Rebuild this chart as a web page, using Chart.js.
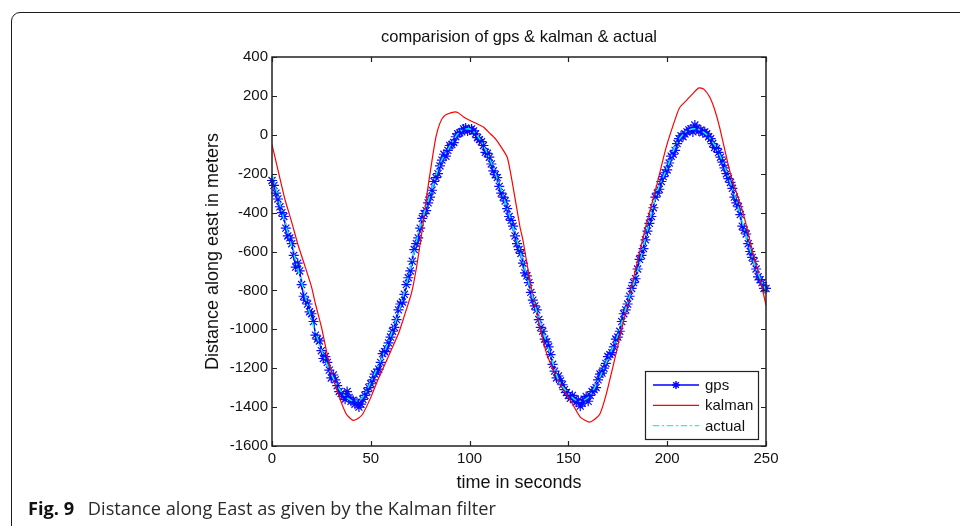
<!DOCTYPE html>
<html>
<head>
<meta charset="utf-8">
<script src="https://cdn.jsdelivr.net/npm/chart.js@4.4.1/dist/chart.umd.min.js"></script>
<style>
    html, body { margin: 0; padding: 0; background: #fff; }
    #wrap { position: relative; width: 960px; height: 526px; overflow: hidden; background: #fff; }
    #frame {
        position: absolute; left: 11px; top: 12px; width: 1000px; height: 600px;
        border: 1.5px solid #1c1c1c; border-top-left-radius: 9px; box-sizing: border-box;
    }
    #chart { position: absolute; left: 0; top: 0; }
    #caption {
        position: absolute; left: 28px; top: 499px; white-space: nowrap;
        font-family: "Open Sans", sans-serif; font-size: 18.2px; line-height: 18px; color: #2a2a2a;
    }
    #caption b { font-weight: 700; color: #111; margin-right: 9px; }
</style>
</head>
<body>
<div id="wrap">
    <div id="frame"></div>
    <canvas id="chart" width="960" height="526"></canvas>
    <div id="caption"><b>Fig. 9</b> Distance along East as given by the Kalman filter</div>
</div>
<script>
// gps fixes, one per second
const gpsTime = [
    0, 1, 2, 3, 4, 5, 6, 7, 8, 9,
    10, 11, 12, 13, 14, 15, 16, 17, 18, 19,
    20, 21, 22, 23, 24, 25, 26, 27, 28, 29,
    30, 31, 32, 33, 34, 35, 36, 37, 38, 39,
    40, 41, 42, 43, 44, 45, 46, 47, 48, 49,
    50, 51, 52, 53, 54, 55, 56, 57, 58, 59,
    60, 61, 62, 63, 64, 65, 66, 67, 68, 69,
    70, 71, 72, 73, 74, 75, 76, 77, 78, 79,
    80, 81, 82, 83, 84, 85, 86, 87, 88, 89,
    90, 91, 92, 93, 94, 95, 96, 97, 98, 99,
    100, 101, 102, 103, 104, 105, 106, 107, 108, 109,
    110, 111, 112, 113, 114, 115, 116, 117, 118, 119,
    120, 121, 122, 123, 124, 125, 126, 127, 128, 129,
    130, 131, 132, 133, 134, 135, 136, 137, 138, 139,
    140, 141, 142, 143, 144, 145, 146, 147, 148, 149,
    150, 151, 152, 153, 154, 155, 156, 157, 158, 159,
    160, 161, 162, 163, 164, 165, 166, 167, 168, 169,
    170, 171, 172, 173, 174, 175, 176, 177, 178, 179,
    180, 181, 182, 183, 184, 185, 186, 187, 188, 189,
    190, 191, 192, 193, 194, 195, 196, 197, 198, 199,
    200, 201, 202, 203, 204, 205, 206, 207, 208, 209,
    210, 211, 212, 213, 214, 215, 216, 217, 218, 219,
    220, 221, 222, 223, 224, 225, 226, 227, 228, 229,
    230, 231, 232, 233, 234, 235, 236, 237, 238, 239,
    240, 241, 242, 243, 244, 245, 246, 247, 248, 249,
    250
];
const gpsDist = [
    -235, -260, -300, -330, -370, -400, -420, -480, -520, -530,
    -560, -620, -680, -660, -700, -770, -830, -850, -870, -910,
    -920, -960, -1030, -1050, -1060, -1110, -1150, -1140, -1170, -1210,
    -1250, -1235, -1260, -1290, -1320, -1330, -1345, -1360, -1320, -1350,
    -1370, -1365, -1385, -1375, -1400, -1385, -1360, -1340, -1320, -1300,
    -1280, -1260, -1230, -1220, -1205, -1170, -1125, -1115, -1100, -1070,
    -1040, -1010, -990, -950, -900, -870, -860, -820, -770, -735,
    -700, -650, -590, -560, -530, -480, -430, -405, -390, -350,
    -320, -285, -240, -220, -200, -160, -130, -100, -110, -80,
    -55, -50, -40, -10, 5, 10, 15, 30, 35, 20,
    25, 30, 20, 5, -15, -25, -35, -55, -90, -95,
    -115, -150, -185, -205, -220, -265, -300, -320, -340, -380,
    -420, -440, -470, -520, -560, -590, -610, -660, -710, -725,
    -760, -810, -850, -880, -900, -950, -990, -1010, -1050, -1065,
    -1090, -1130, -1180, -1215, -1250, -1240, -1265, -1285, -1310, -1325,
    -1340, -1355, -1340, -1360, -1375, -1365, -1395, -1380, -1360, -1345,
    -1370, -1340, -1320, -1310, -1300, -1260, -1230, -1225, -1200, -1175,
    -1140, -1130, -1120, -1090, -1050, -1040, -1010, -960, -920, -900,
    -870, -830, -790, -760, -740, -690, -640, -620, -585, -540,
    -495, -455, -420, -375, -320, -300, -280, -240, -215, -195,
    -180, -145, -110, -100, -80, -45, -20, -5, -10, 5,
    15, 25, 30, 15, 50, 35, 20, 25, 10, 15,
    5, -10, -20, -45, -65, -70, -90, -115, -140, -170,
    -200, -225, -245, -275, -320, -350, -370, -410, -470, -490,
    -510, -560, -600, -630, -650, -690, -730, -745, -760, -790,
    -790
];

// kalman estimate
const kalmanTime = [
    0, 3, 6.5, 10, 13, 16.5, 20, 22, 25, 29,
    33.5, 37.5, 41, 44, 46, 50, 53.5, 58, 64, 67,
    70.5, 73, 75.5, 77, 78.5, 81, 83, 85, 87.5, 92,
    94, 97, 100, 103.5, 107, 110, 113, 116, 119, 120.5,
    122, 125.5, 127, 130.5, 134, 139, 144, 147, 151, 156,
    160.5, 163, 166, 169, 172.5, 176, 179.5, 184.5, 189.5, 194.5,
    199.5, 205, 206.5, 210, 213, 216, 218.5, 221.5, 224, 226.5,
    232, 238.5, 243.5, 247, 250
];
const kalmanDist = [
    -50, -180, -330, -450, -560, -670, -782, -870, -988, -1177,
    -1331, -1434, -1468, -1455, -1434, -1350, -1262, -1160, -1022, -930,
    -817, -690, -525, -420, -300, -130, -10, 60, 100, 117,
    115, 92, 75, 58, 40, 10, -20, -63, -114, -183,
    -268, -474, -542, -748, -919, -1125, -1245, -1300, -1365, -1451,
    -1477, -1465, -1434, -1340, -1194, -1040, -890, -670, -457, -268,
    -63, 109, 143, 180, 212, 241, 235, 194, 130, 40,
    -200, -405, -611, -740, -877
];

// true track
const actualTime = [
    0, 5, 10, 15, 20, 25, 30, 35, 40, 45,
    50, 55, 60, 65, 70, 75, 80, 85, 90, 95,
    100, 105, 110, 115, 120, 125, 130, 135, 140, 145,
    150, 155, 160, 165, 170, 175, 180, 185, 190, 195,
    200, 205, 210, 215, 220, 225, 230, 235, 240, 245,
    250
];
const actualDist = [
    -200, -395, -575, -760, -950, -1105, -1230, -1320, -1365, -1360,
    -1270, -1160, -1035, -880, -690, -470, -310, -150, -60, 15,
    30, -20, -120, -255, -410, -580, -765, -945, -1100, -1260,
    -1330, -1370, -1350, -1265, -1150, -1030, -860, -700, -490, -290,
    -170, -40, 20, 30, 0, -70, -190, -340, -520, -690,
    -800
];

const xTicks = [0, 50, 100, 150, 200, 250];
const yTicks = [-1600, -1400, -1200, -1000, -800, -600, -400, -200, 0, 200, 400];

const pairs = (ts, vs) => ts.map((t, i) => ({ x: t, y: vs[i] }));

const axisFont = '"Liberation Sans", Arial, sans-serif';
Chart.defaults.font.family = axisFont;
Chart.defaults.color = '#111';

// matlab style box with inward ticks
const frameBox = {
    id: 'frameBox',
    afterDatasetsDraw(chart) {
        const { ctx, chartArea: a, scales: { x, y } } = chart;
        ctx.save();
        ctx.strokeStyle = '#222';
        ctx.lineWidth = 1.5;
        ctx.strokeRect(a.left, a.top, a.width, a.height);
        ctx.lineWidth = 1.2;
        ctx.beginPath();
        x.ticks.forEach(t => {
            const px = Math.round(x.getPixelForValue(t.value)) + 0.5;
            ctx.moveTo(px, a.bottom); ctx.lineTo(px, a.bottom - 5);
            ctx.moveTo(px, a.top); ctx.lineTo(px, a.top + 5);
        });
        y.ticks.forEach(t => {
            const py = Math.round(y.getPixelForValue(t.value)) + 0.5;
            ctx.moveTo(a.left, py); ctx.lineTo(a.left + 5, py);
            ctx.moveTo(a.right, py); ctx.lineTo(a.right - 5, py);
        });
        ctx.stroke();
        ctx.restore();
    }
};

// legend boxed inside the axes, lower right
const boxLegend = {
    id: 'boxLegend',
    afterDraw(chart) {
        const { ctx, chartArea: a } = chart;
        const w = 113, h = 68;
        const left = a.right - 8 - w, top = a.bottom - 7 - h;
        ctx.save();
        ctx.fillStyle = '#fff';
        ctx.fillRect(left, top, w, h);
        ctx.strokeStyle = '#222';
        ctx.lineWidth = 1.2;
        ctx.strokeRect(left + 0.5, top + 0.5, w, h);
        ctx.font = '15px ' + axisFont;
        ctx.textBaseline = 'middle';
        chart.data.datasets.forEach((ds, i) => {
            const yy = top + 14 + i * 20.3;
            ctx.strokeStyle = ds.borderColor;
            ctx.lineWidth = ds.borderWidth;
            ctx.setLineDash(ds.borderDash || []);
            ctx.beginPath();
            ctx.moveTo(left + 8, yy);
            ctx.lineTo(left + 54, yy);
            ctx.stroke();
            ctx.setLineDash([]);
            if (ds.pointRadius) {
                ctx.strokeStyle = ds.pointBorderColor;
                Chart.helpers.drawPoint(ctx, { pointStyle: ds.pointStyle, radius: 4, borderWidth: 1.2 }, left + 31, yy);
            }
            ctx.fillStyle = '#111';
            ctx.fillText(ds.label, left + 60, yy + 1);
        });
        ctx.restore();
    }
};

new Chart(document.getElementById('chart'), {
    type: 'line',
    data: {
        datasets: [
            {
                label: 'gps',
                data: pairs(gpsTime, gpsDist),
                borderColor: '#0000ff',
                borderWidth: 1.5,
                pointStyle: 'star',
                pointRadius: 5,
                pointBorderColor: '#0a0aff',
                pointBorderWidth: 1.2,
                tension: 0,
                clip: 6,
                order: 3
            },
            {
                label: 'kalman',
                data: pairs(kalmanTime, kalmanDist),
                borderColor: '#ff0000',
                borderWidth: 1.2,
                pointRadius: 0,
                tension: 0.2,
                order: 2
            },
            {
                label: 'actual',
                data: pairs(actualTime, actualDist),
                borderColor: '#00ffff',
                borderWidth: 1.4,
                borderDash: [6, 3, 2, 3],
                pointRadius: 0,
                tension: 0.3,
                order: 1
            }
        ]
    },
    options: {
        responsive: false,
        animation: false,
        devicePixelRatio: 1,
        events: [],
        layout: { padding: { left: 202, right: 194, top: 0, bottom: 30 } },
        plugins: {
            legend: { display: false },
            tooltip: { enabled: false },
            title: {
                display: true,
                fullSize: false,
                text: 'comparision of gps & kalman & actual',
                color: '#111',
                font: { size: 16.5, weight: 'normal' },
                padding: { top: 28, bottom: 9.2 }
            }
        },
        scales: {
            x: {
                type: 'linear',
                min: 0,
                max: 250,
                afterFit: s => { s.height = 50; },
                afterBuildTicks: s => { s.ticks = xTicks.map(v => ({ value: v })); },
                grid: { display: false, drawTicks: false },
                border: { display: false },
                ticks: { padding: 4, maxRotation: 0, autoSkip: false, font: { size: 15 }, callback: v => String(v) },
                title: { display: true, text: 'time in seconds', font: { size: 18 }, padding: { top: 0, bottom: 2 } }
            },
            y: {
                type: 'linear',
                min: -1600,
                max: 400,
                afterFit: s => { s.width = 70; },
                afterBuildTicks: s => { s.ticks = yTicks.map(v => ({ value: v })); },
                grid: { display: false, drawTicks: false },
                border: { display: false },
                ticks: { padding: 4, autoSkip: false, font: { size: 15 }, callback: v => String(v) },
                title: { display: true, text: 'Distance along east in meters', font: { size: 18 }, padding: { top: 0, bottom: 0 } }
            }
        }
    },
    plugins: [frameBox, boxLegend]
});
</script>
</body>
</html>
